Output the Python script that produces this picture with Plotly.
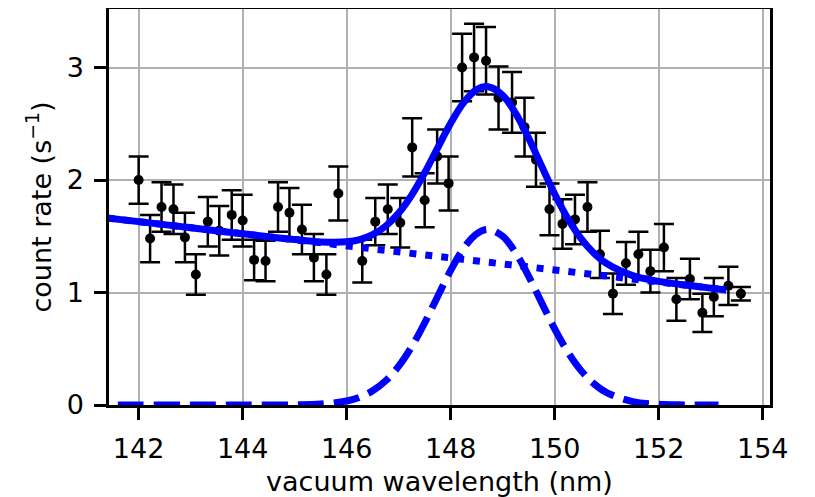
import plotly.graph_objects as go

# measured data points
wavelength = [142.00, 142.22, 142.44, 142.67, 142.89, 143.10, 143.33, 143.55, 143.79, 144.00,
              144.22, 144.44, 144.68, 144.90, 145.14, 145.37, 145.61, 145.84, 146.30, 146.55,
              146.79, 147.03, 147.26, 147.50, 147.74, 147.96, 148.22, 148.45, 148.68, 148.92,
              149.18, 149.42, 149.64, 149.90, 150.15, 150.39, 150.63, 150.87, 151.12, 151.37,
              151.61, 151.84, 152.10, 152.34, 152.60, 152.84, 153.06, 153.34, 153.58]
count_rate = [2.00, 1.48, 1.76, 1.74, 1.49, 1.16, 1.63, 1.55, 1.69, 1.64,
              1.29, 1.28, 1.76, 1.71, 1.56, 1.31, 1.16, 1.88, 1.28, 1.63,
              1.74, 1.62, 2.29, 1.82, 2.21, 1.97, 3.00, 3.09, 3.06, 2.73,
              2.69, 2.47, 2.18, 1.74, 1.61, 1.65, 1.76, 1.34, 0.99, 1.26,
              1.34, 1.19, 1.40, 0.94, 1.12, 0.82, 0.96, 1.06, 0.99]
count_err = [0.21, 0.21, 0.22, 0.22, 0.22, 0.18, 0.22, 0.22, 0.22, 0.23,
             0.18, 0.18, 0.22, 0.22, 0.22, 0.21, 0.18, 0.24, 0.19, 0.21,
             0.22, 0.22, 0.26, 0.24, 0.24, 0.24, 0.30, 0.30, 0.30, 0.28,
             0.27, 0.26, 0.24, 0.23, 0.22, 0.22, 0.22, 0.21, 0.18, 0.19,
             0.20, 0.19, 0.21, 0.19, 0.18, 0.17, 0.17, 0.17, 0.06]

# fit curves
fit_x = [141.4, 142, 143, 144, 145, 145.5, 146, 146.25, 146.5, 146.75,
         147, 147.25, 147.5, 147.75, 148, 148.25, 148.5, 148.72, 149, 149.25,
         149.5, 149.75, 150, 150.25, 150.5, 150.75, 151, 151.5, 152, 152.5,
         153, 153.3]
fit_total = [1.662, 1.630, 1.576, 1.522, 1.470, 1.450, 1.451, 1.471, 1.514, 1.590,
             1.706, 1.866, 2.064, 2.286, 2.505, 2.688, 2.803, 2.829, 2.753, 2.592,
             2.371, 2.122, 1.876, 1.660, 1.483, 1.351, 1.257, 1.150, 1.099, 1.067,
             1.039, 1.023]
peak_x = [141.6, 142, 143, 144, 145, 145.5, 146, 146.25, 146.5, 146.75,
          147, 147.25, 147.5, 147.75, 148, 148.25, 148.5, 148.72, 149, 149.25,
          149.5, 149.75, 150, 150.25, 150.5, 150.75, 151, 151.5, 152, 152.5,
          153.15]
peak_y = [0.0, 0.0, 0.0, 0.0, 0.001, 0.008, 0.036, 0.069, 0.126, 0.215,
          0.345, 0.518, 0.730, 0.965, 1.197, 1.394, 1.522, 1.560, 1.499, 1.352,
          1.144, 0.908, 0.676, 0.473, 0.310, 0.191, 0.110, 0.030, 0.006, 0.001,
          0.0]
bg_x = [141.4, 153.3]
bg_y = [1.662, 1.023]

x_ticks = [142, 144, 146, 148, 150, 152, 154]
y_ticks = [0, 1, 2, 3]

blue = "#0000ff"
fig = go.Figure()
fig.add_trace(go.Scatter(
    x=wavelength, y=count_rate, mode="markers",
    marker=dict(color="black", size=10),
    error_y=dict(type="data", array=count_err, color="black", thickness=2.5, width=10),
))
fig.add_trace(go.Scatter(x=bg_x, y=bg_y, mode="lines",
                         line=dict(color=blue, width=7, dash="7px,9px")))
fig.add_trace(go.Scatter(x=peak_x, y=peak_y, mode="lines",
                         line=dict(color=blue, width=7, dash="26px,10px", shape="spline")))
fig.add_trace(go.Scatter(x=fit_x, y=fit_total, mode="lines",
                         line=dict(color=blue, width=7, shape="spline")))

font = dict(family="DejaVu Sans", size=27, color="black")
axis_common = dict(
    showgrid=True, gridcolor="#b0b0b0", gridwidth=2,
    showline=True, linecolor="black", linewidth=2.5, mirror=True,
    ticks="outside", ticklen=12, tickwidth=2.5, tickcolor="black",
    zeroline=False, tickfont=font, automargin=False,
)
# the page body adds an 8px offset, so the figure is 8px smaller and margins are shifted
fig.update_layout(
    width=807, height=489,
    margin=dict(l=101, r=45, t=1, b=92, autoexpand=False),
    paper_bgcolor="white", plot_bgcolor="white",
    showlegend=False, font=font,
    xaxis=dict(range=[141.43, 154.14], tickvals=x_ticks, ticklabelstandoff=6,
               title=dict(text="vacuum wavelength (nm)", font=font, standoff=10),
               **axis_common),
    yaxis=dict(range=[0, 3.52], tickvals=y_ticks, ticklabelstandoff=5,
               title=dict(text="count rate (s<sup>−1</sup>)", font=font, standoff=8),
               **axis_common),
)
fig.write_html("out.html")
